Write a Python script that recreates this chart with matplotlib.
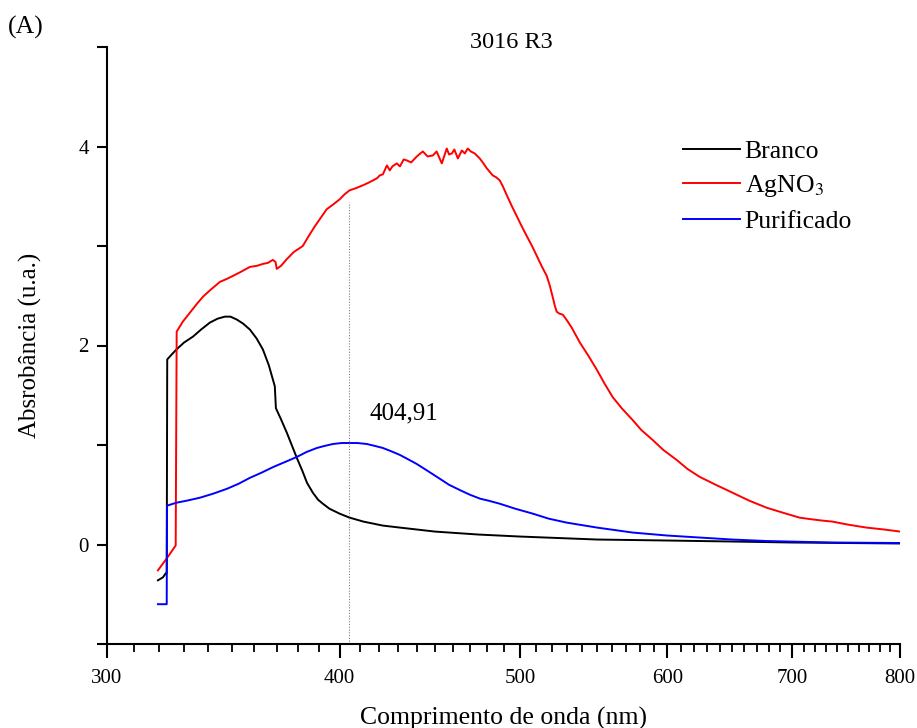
import matplotlib
matplotlib.use("Agg")
import matplotlib.pyplot as plt
from matplotlib.ticker import FixedLocator, FixedFormatter, NullFormatter

plt.rcParams['font.family'] = ['Liberation Serif', 'DejaVu Serif']
plt.rcParams['mathtext.fontset'] = 'stix'

# Branco
branco_nm = [319.5, 321.5, 322.6, 323.0, 323.2, 325.0, 326.9, 330.0, 333.7, 337.0,
             340.7, 344.0, 347.1, 349.5, 352.3, 355.0, 358.0, 361.0, 363.8, 366.5,
             369.2, 369.7, 372.0, 374.8, 377.0, 379.4, 382.0, 384.2, 387.0, 389.5,
             391.8, 395.0, 400.0, 405.0, 412.0, 422.0, 431.0, 450.0, 475.0, 500.0,
             550.0, 600.0, 650.0, 700.0, 800.0]
branco_abs = [-0.36, -0.33, -0.29, -0.29, 1.86, 1.91, 1.96, 2.03, 2.09, 2.16,
              2.23, 2.27, 2.29, 2.29, 2.26, 2.22, 2.16, 2.07, 1.96, 1.80,
              1.59, 1.37, 1.26, 1.12, 1.00, 0.87, 0.74, 0.62, 0.52, 0.45,
              0.41, 0.36, 0.31, 0.27, 0.23, 0.19, 0.17, 0.13, 0.10, 0.08,
              0.05, 0.04, 0.03, 0.02, 0.01]

# AgNO3
agno3_nm = [319.5, 323.0, 326.6, 327.0, 329.5, 332.4, 335.0, 337.8, 341.0, 345.0,
            348.0, 350.6, 354.0, 358.0, 361.0, 363.8, 366.0, 368.3, 369.5, 370.1,
            372.0, 374.8, 378.0, 382.2, 385.0, 388.0, 391.0, 393.7, 397.0, 400.1,
            402.5, 405.0, 408.0, 411.7, 415.0, 418.9, 420.4, 422.0, 424.1, 425.6,
            427.0, 429.3, 431.0, 433.0, 434.7, 437.0, 440.1, 442.0, 443.4, 446.0,
            448.9, 451.0, 453.9, 456.7, 458.0, 459.6, 461.0, 463.0, 465.3, 467.0,
            468.7, 470.5, 472.8, 475.7, 477.5, 479.9, 483.4, 485.5, 487.6, 489.5,
            491.9, 495.0, 498.0, 501.0, 504.2, 507.5, 510.5, 513.5, 516.8, 518.8,
            520.6, 522.0, 523.2, 525.0, 527.2, 530.0, 533.0, 538.4, 544.0, 549.7,
            555.0, 560.8, 567.0, 574.8, 581.0, 589.2, 597.0, 606.9, 615.0, 624.4,
            637.0, 650.4, 664.0, 678.3, 692.0, 706.5, 716.0, 726.9, 736.0, 750.0,
            767.5, 785.0, 800.0]
agno3_abs = [-0.26, -0.14, -0.01, 2.14, 2.24, 2.33, 2.41, 2.49, 2.56, 2.64,
             2.67, 2.70, 2.74, 2.79, 2.80, 2.82, 2.83, 2.86, 2.84, 2.77,
             2.80, 2.87, 2.94, 3.00, 3.10, 3.20, 3.29, 3.37, 3.42, 3.47,
             3.52, 3.56, 3.58, 3.61, 3.64, 3.68, 3.71, 3.72, 3.81, 3.76,
             3.80, 3.83, 3.80, 3.87, 3.86, 3.84, 3.90, 3.93, 3.95, 3.90,
             3.91, 3.95, 3.83, 3.98, 3.92, 3.93, 3.97, 3.88, 3.96, 3.93,
             3.98, 3.95, 3.93, 3.88, 3.84, 3.78, 3.71, 3.69, 3.66, 3.60,
             3.51, 3.40, 3.30, 3.20, 3.10, 3.00, 2.90, 2.80, 2.70, 2.60,
             2.49, 2.40, 2.34, 2.32, 2.31, 2.25, 2.18, 2.03, 1.90, 1.76,
             1.62, 1.48, 1.37, 1.25, 1.15, 1.05, 0.95, 0.85, 0.76, 0.68,
             0.60, 0.52, 0.44, 0.37, 0.32, 0.27, 0.255, 0.24, 0.23, 0.20,
             0.17, 0.15, 0.13]

# Purificado
purif_nm = [319.5, 323.0, 323.1, 326.9, 331.0, 336.5, 342.0, 348.0, 353.0, 358.0,
            363.0, 368.6, 374.0, 379.4, 384.0, 388.9, 392.5, 396.7, 401.0, 405.0,
            409.0, 413.7, 418.0, 422.0, 426.0, 431.0, 435.0, 440.0, 446.0, 452.0,
            458.0, 465.0, 470.0, 476.0, 481.0, 487.6, 497.0, 508.0, 518.0, 529.7,
            550.0, 574.8, 600.0, 624.4, 650.0, 678.3, 736.0, 800.0]
purif_abs = [-0.60, -0.60, 0.39, 0.42, 0.44, 0.47, 0.51, 0.56, 0.61, 0.67,
             0.72, 0.78, 0.83, 0.88, 0.93, 0.97, 0.99, 1.01, 1.02, 1.02,
             1.02, 1.01, 0.99, 0.97, 0.94, 0.90, 0.86, 0.81, 0.74, 0.67,
             0.60, 0.54, 0.50, 0.46, 0.44, 0.41, 0.36, 0.31, 0.26, 0.22,
             0.17, 0.12, 0.09, 0.07, 0.05, 0.035, 0.02, 0.015]

peak_nm = 404.91

x_major = [300, 400, 500, 600, 700, 800]
x_minor = [v for v in range(300, 801, 10) if v % 100 != 0]
y_major = [0, 2, 4]
y_minor = [-1, 1, 3, 5]

fig = plt.figure(figsize=(9.17, 7.28), dpi=100)
ax = fig.add_axes([107 / 917, 1 - 644 / 728, 793 / 917, 597 / 728])

ax.plot(branco_nm, branco_abs, color='black', lw=1.4, label='Branco')
ax.plot(agno3_nm, agno3_abs, color='#ff0000', lw=1.4, label='AgNO$_3$')
ax.plot(purif_nm, purif_abs, color='#0000ff', lw=1.4, label='Purificado')
ax.axvline(peak_nm, ymax=0.74, color='gray', ls=(0, (1, 1.5)), lw=0.8)
ax.text(415, 1.32, f"{peak_nm:.2f}".replace('.', ','), fontsize=18, va='center', ha='left')

ax.set_xscale('log')
ax.set_xlim(300, 800)
ax.set_ylim(-1, 5)
ax.xaxis.set_major_locator(FixedLocator(x_major))
ax.xaxis.set_major_formatter(FixedFormatter([str(v) for v in x_major]))
ax.xaxis.set_minor_locator(FixedLocator(x_minor))
ax.xaxis.set_minor_formatter(NullFormatter())
ax.yaxis.set_major_locator(FixedLocator(y_major))
ax.yaxis.set_minor_locator(FixedLocator(y_minor))

for s in ['top', 'right']:
    ax.spines[s].set_visible(False)
for s in ['left', 'bottom']:
    ax.spines[s].set_linewidth(1.5)

ax.tick_params(axis='x', which='major', direction='out', length=10, width=1.5, labelsize=15, pad=8)
ax.tick_params(axis='x', which='minor', direction='out', length=6, width=1.3)
ax.tick_params(axis='y', which='both', direction='out', length=7, width=1.5, labelsize=15, pad=6)

ax.set_xlabel('Comprimento de onda (nm)', fontsize=18.5)
ax.xaxis.set_label_coords(0.5, -0.105)
ax.set_ylabel('Absrobância (u.a.)', fontsize=18)
ax.yaxis.set_label_coords(-0.082, 0.5)

ax.legend(loc='upper left', bbox_to_anchor=(0.7264, 0.845), frameon=False, fontsize=18.5,
          borderpad=0, borderaxespad=0, handlelength=2.2, handletextpad=0.2, labelspacing=0.42)

fig.text(511 / 917, 1 - 42 / 728, '3016 R3', fontsize=17.5, ha='center', va='center')
fig.text(8 / 917, 1 - 27 / 728, '(A)', fontsize=18.5, ha='left', va='center')

fig.savefig('out.png', dpi=100)
